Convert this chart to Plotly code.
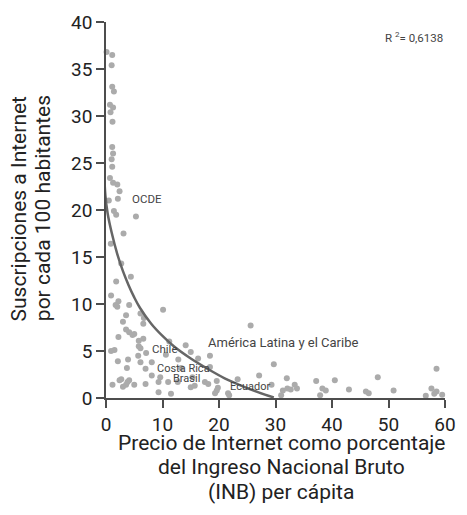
import plotly.graph_objects as go

# Scatter: price of internet (% of GNI per capita) vs subscriptions per 100 inhabitants
precio = [0.1, 1.1, 1.0, 1.1, 1.4, 0.7, 1.25, 0.8, 1.15, 1.1, 1.25, 1.0, 1.1, 0.7, 1.25, 2.0, 2.4,
          0.5, 2.1, 1.4, 1.8, 5.3, 3.1, 0.85, 2.7, 1.8, 4.4, 0.9, 2.2, 1.7, 2.0, 4.1, 3.55, 6.1,
          10.1, 6.7, 3.0, 6.6, 3.55, 4.1, 4.7, 5.0, 2.2, 5.8, 6.6, 0.9, 1.5, 5.8, 6.1, 7.1, 5.7,
          3.9, 2.1, 6.1, 3.7, 7.0, 2.7, 2.4, 4.1, 3.8, 3.55, 1.15, 3.0, 5.0, 7.0, 9.3, 9.3, 11.5,
          11.2, 14.1, 15.0, 16.3, 18.4, 10.6, 12.8, 8.1, 8.1, 9.6, 13.3, 11.0, 12.7, 15.3, 15.0,
          15.7, 17.5, 18.1, 18.4, 19.6, 19.8, 19.6, 19.3, 21.6, 21.8, 23.3, 25.6, 27.1, 29.7,
          29.3, 32.0, 31.3, 32.1, 32.7, 33.8, 33.4, 31.0, 37.2, 38.3, 38.9, 37.9, 40.5, 43.0,
          46.0, 46.5, 48.1, 50.9, 58.5, 57.6, 58.5, 58.1, 56.6, 59.5]
suscripciones = [36.8, 36.5, 35.4, 33.1, 32.6, 31.2, 30.9, 30.4, 29.4, 26.7, 26.0, 25.4, 24.6, 23.4,
                 22.9, 22.7, 22.0, 21.0, 21.2, 19.9, 19.5, 19.3, 17.5, 16.4, 14.3, 12.4, 12.9, 10.9,
                 10.3, 9.9, 9.7, 9.9, 8.8, 9.0, 9.4, 8.5, 8.1, 7.9, 7.3, 7.0, 6.7, 6.8, 6.5, 6.1,
                 6.3, 5.0, 5.1, 5.5, 5.3, 4.8, 4.5, 4.1, 3.9, 3.8, 3.2, 3.1, 2.0, 1.9, 1.9, 1.7, 1.4,
                 1.4, 1.2, 1.4, 1.5, 1.7, 0.6, 0.45, 6.0, 5.6, 4.9, 4.2, 4.5, 4.6, 4.1, 3.8, 2.4,
                 2.2, 3.2, 1.7, 1.7, 2.2, 1.15, 1.3, 1.7, 1.5, 3.3, 1.8, 1.1, 0.8, 0.5, 0.5, 0.3,
                 2.0, 7.7, 2.4, 3.6, 1.4, 2.1, 0.8, 1.0, 0.9, 1.0, 1.4, 0.3, 1.8, 1.0, 0.8, 0.3,
                 1.9, 0.9, 0.7, 0.5, 2.2, 0.8, 3.1, 1.0, 0.7, 0.45, 0.25, 0.35]

# Fitted trend curve
curva_x = [-0.2, -0.4, -0.35, -0.1, 0.3, 1.0, 2.0, 3.0, 4.0, 5.0, 6.0, 8.0, 10.0, 12.0, 15.0,
           18.0, 21.0, 24.0, 27.0, 29.7]
curva_y = [30.0, 27.5, 24.5, 21.5, 19.6, 17.6, 15.3, 13.5, 12.0, 10.7, 9.6, 7.9, 6.6, 5.5, 4.2,
           3.1, 2.1, 1.3, 0.6, 0.05]

# Region labels
etiquetas = ["OCDE", "América Latina y el Caribe", "Chile", "Costa Rica", "Brasil", "Ecuador"]
etiq_x = [4.3, 17.7, 7.7, 8.7, 11.5, 21.6]
etiq_y = [21.2, 5.9, 5.2, 3.1, 2.1, 1.2]
etiq_size = [11.5, 13, 11.5, 11, 11, 11]

x_ticks = [0, 10, 20, 30, 40, 50, 60]
y_ticks = [0, 5, 10, 15, 20, 25, 30, 35, 40]

FONT = "Roboto, Liberation Sans, sans-serif"
AXIS = "#4d4d4d"

fig = go.Figure()
fig.add_trace(go.Scatter(
    x=precio, y=suscripciones, mode="markers",
    marker=dict(size=6, color="#ababab", line=dict(width=0)),
    cliponaxis=False, hoverinfo="x+y", showlegend=False))
fig.add_trace(go.Scatter(
    x=curva_x, y=curva_y, mode="lines",
    line=dict(color="#666666", width=2.5, shape="spline", smoothing=1.0),
    cliponaxis=False, hoverinfo="skip", showlegend=False))

annotations = []
for t, x, y, s in zip(etiquetas, etiq_x, etiq_y, etiq_size):
    annotations.append(dict(x=x, y=y, xref="x", yref="y", text=t, showarrow=False,
                            xanchor="left", yanchor="middle",
                            font=dict(family=FONT, size=s, color="#444444")))

annotations.append(dict(x=1.0, y=0.959, xref="paper", yref="paper",
                        text="R <sup>2</sup>= 0,6138", showarrow=False,
                        xanchor="right", yanchor="middle",
                        font=dict(family=FONT, size=11.5, color="#444444")))

# Y axis title (two lines)
for line, px in [("Suscripciones a Internet", 16.5), ("por cada 100 habitantes", 41)]:
    annotations.append(dict(x=(px - 106) / 350, y=0.505, xref="paper", yref="paper",
                            text=line, showarrow=False, textangle=-90,
                            xanchor="center", yanchor="middle",
                            font=dict(family=FONT, size=21, color="#222222")))

# X axis title (three lines)
for line, py in [("Precio de Internet como porcentaje", 443),
                 ("del Ingreso Nacional Bruto", 468),
                 ("(INB) per cápita", 493)]:
    annotations.append(dict(x=(287 - 106) / 350, y=(397.6 - py) / 381.1,
                            xref="paper", yref="paper", text=line, showarrow=False,
                            xanchor="center", yanchor="middle",
                            font=dict(family=FONT, size=21, color="#222222")))

fig.update_layout(
    width=467, height=515,
    margin=dict(l=106, r=11, t=16.5, b=117.4, pad=0),
    paper_bgcolor="white", plot_bgcolor="white",
    font=dict(family=FONT, color="#222222"),
    annotations=annotations,
    xaxis=dict(range=[0, 60], tickvals=x_ticks, ticks="outside", ticklen=8,
               tickwidth=1.5, tickcolor=AXIS, showline=True, linecolor=AXIS,
               linewidth=1.5, showgrid=False, zeroline=False,
               tickfont=dict(family=FONT, size=19, color="#222222")),
    yaxis=dict(range=[0, 40], tickvals=y_ticks, ticks="outside", ticklen=8,
               tickwidth=1.5, tickcolor=AXIS, showline=True, linecolor=AXIS,
               linewidth=1.5, showgrid=False, zeroline=False,
               tickfont=dict(family=FONT, size=19, color="#222222")),
)

fig.write_html("out.html", config={"displayModeBar": False},
               post_script="document.body.style.margin='0';document.body.style.padding='0';")
